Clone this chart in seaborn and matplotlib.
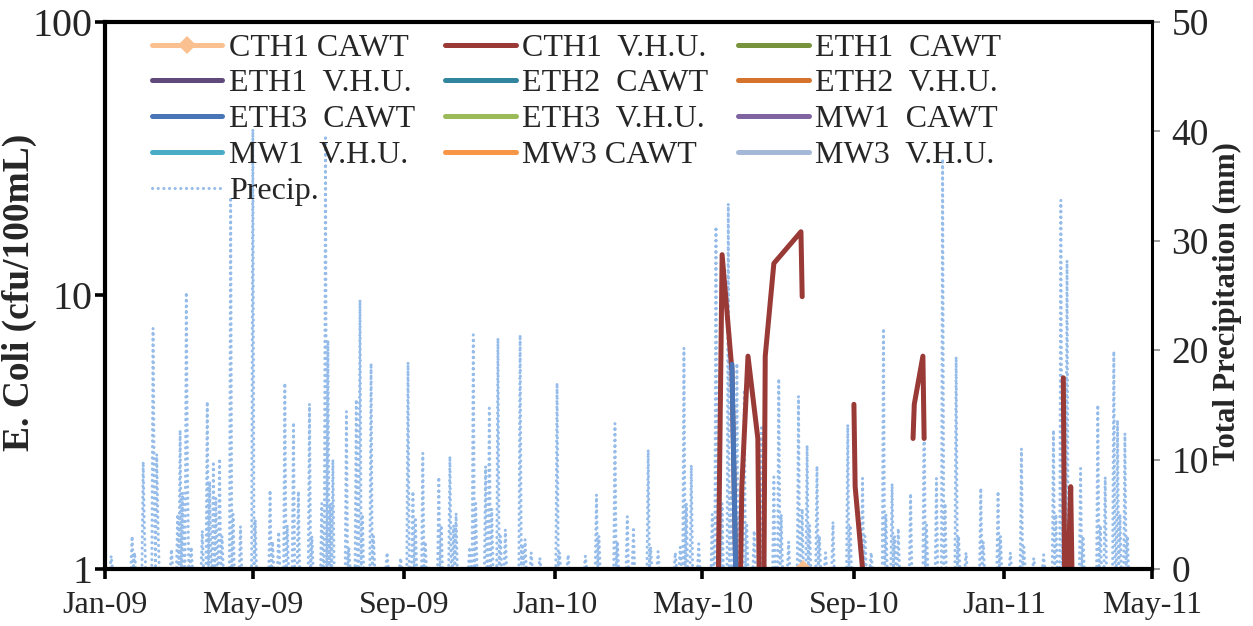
import pandas as pd
import matplotlib
matplotlib.use("Agg")
import matplotlib.pyplot as plt
import matplotlib.dates as mdates
from matplotlib.ticker import FixedLocator, FixedFormatter, NullLocator
import seaborn as sns

# ---------------------------------------------------------------------------
# Daily precipitation (mm) on wet days; every other day is dry (0 mm)
precip_dates = [
    "2009-01-06", "2009-01-23", "2009-01-25", "2009-02-01", "2009-02-02", "2009-02-09",
    "2009-02-10", "2009-02-12", "2009-02-13", "2009-02-24", "2009-03-01", "2009-03-03",
    "2009-03-05", "2009-03-08", "2009-03-09", "2009-03-12", "2009-03-21", "2009-03-25",
    "2009-03-27", "2009-03-30", "2009-04-01", "2009-04-04", "2009-04-06", "2009-04-13",
    "2009-04-15", "2009-04-21", "2009-05-01", "2009-05-03", "2009-05-15", "2009-05-17",
    "2009-05-22", "2009-05-27", "2009-05-29", "2009-06-03", "2009-06-07", "2009-06-16",
    "2009-06-18", "2009-06-26", "2009-06-29", "2009-07-01", "2009-07-03", "2009-07-05",
    "2009-07-16", "2009-07-18", "2009-07-24", "2009-07-27", "2009-07-29", "2009-08-05",
    "2009-08-07", "2009-08-18", "2009-08-29", "2009-09-04", "2009-09-08", "2009-09-10",
    "2009-09-16", "2009-09-18", "2009-09-29", "2009-10-01", "2009-10-08", "2009-10-11",
    "2009-10-13", "2009-10-24", "2009-10-27", "2009-10-29", "2009-11-06", "2009-11-09",
    "2009-11-11", "2009-11-16", "2009-11-18", "2009-11-22", "2009-12-04", "2009-12-06",
    "2009-12-08", "2009-12-13", "2009-12-20",
    "2010-01-03", "2010-01-05", "2010-01-12", "2010-01-26", "2010-02-04", "2010-02-06",
    "2010-02-19", "2010-02-21", "2010-03-01", "2010-03-06", "2010-03-18", "2010-03-20",
    "2010-03-26", "2010-04-09", "2010-04-13", "2010-04-16", "2010-04-18", "2010-04-22",
    "2010-04-28", "2010-05-09", "2010-05-12", "2010-05-15", "2010-05-17", "2010-05-22",
    "2010-05-24", "2010-05-29", "2010-05-31", "2010-06-04", "2010-06-06", "2010-06-12",
    "2010-06-18", "2010-06-20", "2010-06-28", "2010-07-02", "2010-07-04", "2010-07-10",
    "2010-07-18", "2010-07-21", "2010-07-25", "2010-07-27", "2010-08-02", "2010-08-04",
    "2010-08-09", "2010-08-15", "2010-08-27", "2010-08-29", "2010-09-08", "2010-09-10",
    "2010-09-15", "2010-09-25", "2010-09-27", "2010-10-02", "2010-10-04", "2010-10-07",
    "2010-10-17", "2010-10-28", "2010-10-30", "2010-11-07", "2010-11-12", "2010-11-14",
    "2010-11-23", "2010-11-25", "2010-12-01", "2010-12-13", "2010-12-15", "2010-12-27",
    "2010-12-29",
    "2011-01-06", "2011-01-15", "2011-01-17", "2011-01-25", "2011-02-02", "2011-02-10",
    "2011-02-12", "2011-02-16", "2011-02-18", "2011-02-21", "2011-02-23", "2011-03-04",
    "2011-03-06", "2011-03-18", "2011-03-20", "2011-03-24", "2011-03-31", "2011-04-03",
    "2011-04-05", "2011-04-09", "2011-04-11",
]
precip_mm = [
    1.2, 3.0, 1.5, 9.8, 3.5, 22.0,
    7.5, 10.5, 4.0, 1.8, 5.0, 12.7,
    7.0, 25.3, 8.5, 2.0, 3.5, 15.3,
    8.0, 9.6, 6.5, 10.1, 3.0, 34.0,
    5.0, 3.9, 40.2, 4.5, 7.2, 2.5,
    3.4, 17.0, 4.0, 13.4, 7.1, 15.1,
    3.0, 6.0, 39.4, 20.9, 6.0, 10.0,
    14.4, 2.0, 15.5, 24.6, 5.0, 18.8,
    3.0, 1.5, 1.0, 18.9, 7.1, 4.5,
    10.6, 2.5, 8.4, 4.0, 10.3, 4.0,
    5.1, 2.0, 21.4, 6.0, 9.4, 14.7,
    5.5, 21.1, 3.0, 3.6, 21.4, 2.0,
    2.7, 1.5, 1.0,
    17.0, 1.5, 1.3, 1.2, 6.8, 3.0,
    13.3, 2.5, 4.8, 3.6, 10.9, 2.0,
    1.6, 1.5, 2.0, 20.2, 6.0, 9.5,
    2.3, 5.0, 31.3, 14.2, 6.0, 33.4,
    7.0, 18.8, 5.0, 16.4, 4.0, 3.5,
    12.9, 4.0, 8.4, 17.4, 5.0, 2.5,
    15.8, 5.5, 11.3, 4.0, 9.4, 3.0,
    1.5, 4.3, 13.2, 4.0, 8.3, 3.0,
    1.5, 22.0, 5.0, 7.8, 3.0, 3.7,
    6.9, 16.1, 4.0, 8.3, 37.5, 6.0,
    19.4, 3.0, 1.5, 7.4, 2.5, 7.1,
    3.0,
    1.5, 11.0, 2.0, 1.0, 1.3, 12.7,
    5.0, 33.7, 9.0, 28.2, 6.0, 9.2,
    3.0, 15.0, 4.0, 8.4, 19.9, 13.6,
    5.0, 12.4, 3.0,
]
precip_start, precip_end = "2009-01-01", "2011-04-15"

# ---------------------------------------------------------------------------
# E. coli (cfu/100mL); "seg" numbers the unbroken runs of each series
cth1_vhu_dates = [
    "2010-05-14", "2010-05-17", "2010-05-25", "2010-05-28",
    "2010-06-01", "2010-06-02", "2010-06-07", "2010-06-15", "2010-06-16",
    "2010-06-20", "2010-06-21", "2010-06-28", "2010-07-20", "2010-07-21",
    "2010-09-01", "2010-09-02", "2010-09-08",
    "2010-10-19", "2010-10-20", "2010-10-27", "2010-10-28",
    "2011-02-18", "2011-02-19", "2011-02-22", "2011-02-24", "2011-02-25",
]
cth1_vhu_vals = [
    1.0, 14.1, 5.3, 1.0,
    1.0, 2.0, 6.0, 3.0, 1.0,
    1.0, 6.0, 13.1, 17.1, 9.9,
    4.0, 2.0, 1.0,
    3.0, 4.0, 6.0, 3.0,
    5.0, 1.0, 1.0, 2.0, 1.0,
]
cth1_vhu_seg = [
    1, 1, 1, 1,
    2, 2, 2, 2, 2,
    3, 3, 3, 3, 3,
    4, 4, 4,
    5, 5, 5, 5,
    6, 6, 6, 6, 6,
]

cth1_cawt_dates = ["2010-07-22"]
cth1_cawt_vals = [1.0]

eth3_cawt_dates = ["2010-05-25", "2010-05-28"]
eth3_cawt_vals = [5.6, 1.0]

# series that stayed at the 1 cfu/100mL floor on every sampling date
floor_dates = ["2010-06-10", "2010-08-05", "2010-10-05", "2011-01-20"]
eth1_cawt_vals = [1.0, 1.0, 1.0, 1.0]
eth1_vhu_vals = [1.0, 1.0, 1.0, 1.0]
eth2_cawt_vals = [1.0, 1.0, 1.0, 1.0]
eth2_vhu_vals = [1.0, 1.0, 1.0, 1.0]
eth3_vhu_vals = [1.0, 1.0, 1.0, 1.0]
mw1_cawt_vals = [1.0, 1.0, 1.0, 1.0]
mw1_vhu_vals = [1.0, 1.0, 1.0, 1.0]
mw3_cawt_vals = [1.0, 1.0, 1.0, 1.0]
mw3_vhu_vals = [1.0, 1.0, 1.0, 1.0]

x_ticks = ["2009-01-01", "2009-05-01", "2009-09-01", "2010-01-01",
           "2010-05-01", "2010-09-01", "2011-01-01", "2011-05-01"]
left_ticks = [1, 10, 100]
left_tick_labels = ["1", "10", "100"]
right_ticks = [0, 10, 20, 30, 40, 50]

# ---------------------------------------------------------------------------
sns.set_theme(style="white")
plt.rcParams["font.family"] = ["Liberation Serif", "DejaVu Serif"]

fig = plt.figure(figsize=(12.53, 6.26), dpi=100)
fig.patch.set_facecolor("white")
ax = fig.add_axes([0.0838, 0.0911, 0.8356, 0.8738])
ax2 = ax.twinx()
ax.set_zorder(ax2.get_zorder() + 1)
ax.patch.set_visible(False)

# precipitation on the secondary axis, drawn as a dotted line
daily = pd.Series(0.0, index=pd.date_range(precip_start, precip_end, freq="D"))
daily.loc[pd.to_datetime(precip_dates)] = precip_mm
sns.lineplot(x=daily.index, y=daily.values, ax=ax2, estimator=None,
             color="#96BCEA", linewidth=2.2, linestyle=(0, (0.05, 1.8)),
             dash_capstyle="round", label="Precip.")

LW = 3.6


def draw(dates, vals, color, label, seg=None, **kw):
    d = pd.to_datetime(dates)
    if seg is None:
        seg = [0] * len(vals)
    sns.lineplot(x=d, y=vals, units=seg, estimator=None, ax=ax, color=color,
                 linewidth=LW, label=label, solid_capstyle="round", **kw)


draw(cth1_cawt_dates, cth1_cawt_vals, "#FAC090", "CTH1 CAWT",
     marker="D", markersize=9, markeredgewidth=0)
draw(cth1_vhu_dates, cth1_vhu_vals, "#993A37", "CTH1  V.H.U.", seg=cth1_vhu_seg)
draw(floor_dates, eth1_cawt_vals, "#77933C", "ETH1  CAWT")
draw(floor_dates, eth1_vhu_vals, "#604A7B", "ETH1  V.H.U.")
draw(floor_dates, eth2_cawt_vals, "#31859C", "ETH2  CAWT")
draw(floor_dates, eth2_vhu_vals, "#D5732D", "ETH2  V.H.U.")
draw(eth3_cawt_dates, eth3_cawt_vals, "#4A76B8", "ETH3  CAWT")
draw(floor_dates, eth3_vhu_vals, "#9BBB59", "ETH3  V.H.U.")
draw(floor_dates, mw1_cawt_vals, "#8064A2", "MW1  CAWT")
draw(floor_dates, mw1_vhu_vals, "#4BACC6", "MW1  V.H.U.")
draw(floor_dates, mw3_cawt_vals, "#F79646", "MW3 CAWT")
draw(floor_dates, mw3_vhu_vals, "#A5B8D7", "MW3  V.H.U.")

# ---- axes: E. coli (log, left) -------------------------------------------
ax.set_yscale("log")
ax.set_ylim(1, 100)
ax.yaxis.set_major_locator(FixedLocator(left_ticks))
ax.yaxis.set_major_formatter(FixedFormatter(left_tick_labels))
ax.yaxis.set_minor_locator(NullLocator())
ax.set_xlim(pd.Timestamp("2009-01-01"), pd.Timestamp("2011-05-01"))
ax.xaxis.set_major_locator(FixedLocator(mdates.date2num(pd.to_datetime(x_ticks))))
ax.xaxis.set_major_formatter(mdates.DateFormatter("%b-%y"))
ax.xaxis.set_minor_locator(NullLocator())

for side in ["left", "bottom", "top", "right"]:
    ax.spines[side].set_visible(True)
    ax.spines[side].set_color("black")
    ax.spines[side].set_linewidth(3.0)
ax.spines["right"].set_linewidth(2.2)
for side in ax2.spines:
    ax2.spines[side].set_visible(False)

ax.tick_params(axis="x", which="major", direction="out", length=7, width=2.6,
               color="black", labelsize=23, pad=9, bottom=True)
ax.tick_params(axis="y", which="major", direction="out", length=7, width=2.6,
               color="black", labelsize=29, pad=2, left=True, right=False)
ax.set_ylabel("E. Coli (cfu/100mL)", fontsize=27, fontweight="bold")
ax.yaxis.set_label_coords(-0.065, 0.506)
ax.set_xlabel("")

# ---- axes: precipitation (right) -----------------------------------------
ax2.set_ylim(0, 50)
ax2.yaxis.set_major_locator(FixedLocator(right_ticks))
ax2.tick_params(axis="y", which="major", direction="out", length=6, width=1.2,
                color="#8C8C8C", labelsize=27, pad=8, right=True)
ax2.set_ylabel("Total Precipitation (mm)", fontsize=22, fontweight="bold",
               rotation=90)
ax2.yaxis.set_label_coords(1.0583, 0.486)
ax2.grid(False)
ax.grid(False)

# ---- legend: three columns, read across the rows ----------------------------
handles, labels = [], []
for a in (ax, ax2):
    leg = a.get_legend()
    if leg is not None:
        leg.remove()
    for h, l in zip(*a.get_legend_handles_labels()):
        if l not in labels:
            handles.append(h)
            labels.append(l)

ncol = 3
order = [i for c in range(ncol) for i in range(c, len(handles), ncol)]
ax.legend([handles[i] for i in order], [labels[i] for i in order], ncol=ncol,
          loc="upper left", bbox_to_anchor=(0.042, 0.985), frameon=False,
          fontsize=23, handlelength=2.2, handletextpad=0.2, columnspacing=0.95,
          labelspacing=0.2, borderaxespad=0.0, borderpad=0.1)

fig.savefig("out.png", dpi=100, facecolor="white")
